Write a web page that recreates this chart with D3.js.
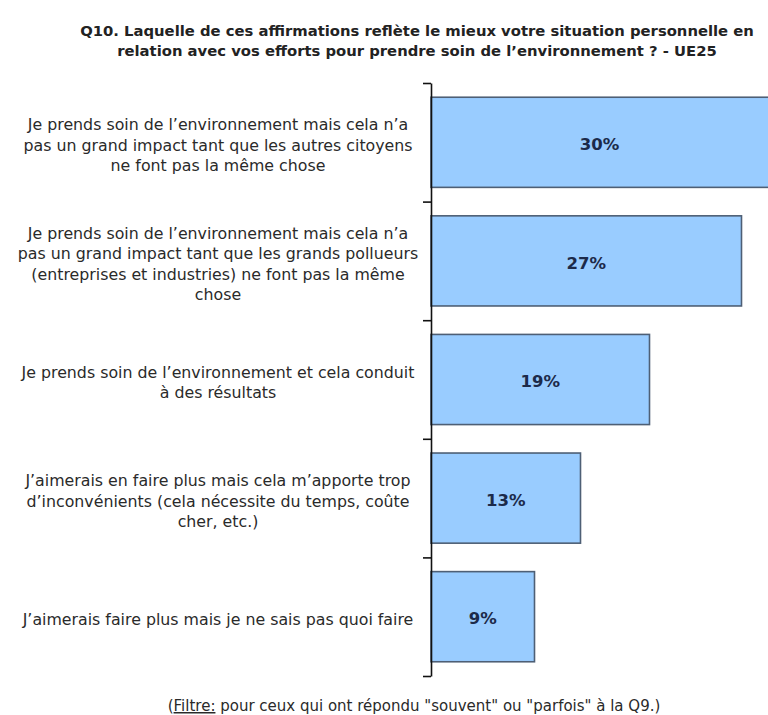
<!DOCTYPE html>
<html>
<head>
<meta charset="utf-8">
<script src="https://cdn.jsdelivr.net/npm/d3@7"></script>
<style>
  html, body { margin: 0; padding: 0; background: #ffffff; }
  svg { display: block; }
</style>
</head>
<body>
<script>
const titleLines = [
  "Q10. Laquelle de ces affirmations reflète le mieux votre situation personnelle en",
  "relation avec vos efforts pour prendre soin de l’environnement ? - UE25"
];
const categories = [
  ["Je prends soin de l’environnement mais cela n’a", "pas un grand impact tant que les autres citoyens", "ne font pas la même chose"],
  ["Je prends soin de l’environnement mais cela n’a", "pas un grand impact tant que les grands pollueurs", "(entreprises et industries) ne font pas la même", "chose"],
  ["Je prends soin de l’environnement et cela conduit", "à des résultats"],
  ["J’aimerais en faire plus mais cela m’apporte trop", "d’inconvénients (cela nécessite du temps, coûte", "cher, etc.)"],
  ["J’aimerais faire plus mais je ne sais pas quoi faire"]
];
const values = [30, 27, 19, 13, 9];
const valueLabels = ["30%", "27%", "19%", "13%", "9%"];
const footerPrefix = "(";
const footerUnderlined = "Filtre:";
const footerRest = " pour ceux qui ont répondu \"souvent\" ou \"parfois\" à la Q9.)";

const W = 768, H = 715;
const font = "'DejaVu Sans', Verdana, sans-serif";

const svg = d3.select("body").append("svg")
  .attr("width", W).attr("height", H)
  .style("font-family", font);

// Title
svg.append("g").selectAll("text").data(titleLines).join("text")
  .attr("x", 417)
  .attr("y", (d, i) => 36 + i * 20)
  .attr("text-anchor", "middle")
  .attr("font-size", 14.8)
  .attr("font-weight", "bold")
  .attr("fill", "#222")
  .text(d => d);

const x = d3.scaleLinear().domain([0, 30]).range([431, 776]);
const idx = d3.range(categories.length);
const y = d3.scaleBand().domain(idx).range([83, 676]).paddingInner(0.24).paddingOuter(0.12);
const yTicks = d3.scaleLinear().domain([0, categories.length]).range([83, 676]);

// Bars
svg.append("g").selectAll("rect").data(values).join("rect")
  .attr("x", x(0))
  .attr("y", (d, i) => y(i))
  .attr("width", d => x(d) - x(0))
  .attr("height", y.bandwidth())
  .attr("fill", "#99ccff")
  .attr("stroke", "#4e5f75")
  .attr("stroke-width", 1.6);

// Value labels
svg.append("g").selectAll("text").data(values).join("text")
  .attr("x", d => (x(0) + Math.min(x(d), W)) / 2)
  .attr("y", (d, i) => y(i) + y.bandwidth() / 2 + 2)
  .attr("dy", "0.35em")
  .attr("text-anchor", "middle")
  .attr("font-size", 16.5)
  .attr("font-weight", "bold")
  .attr("fill", "#1c2a4a")
  .text((d, i) => valueLabels[i]);

// Axis
const axis = d3.axisLeft(yTicks).ticks(categories.length).tickFormat("").tickSize(8).tickSizeOuter(0);
const ag = svg.append("g").attr("transform", `translate(${x(0)},0)`).call(axis);
ag.select(".domain").attr("stroke", "#111").attr("stroke-width", 1.6);
ag.selectAll(".tick line").attr("stroke", "#111").attr("stroke-width", 1.6);

// Category labels
const lh = 20.5;
const cg = svg.append("g");
categories.forEach((lines, i) => {
  const cy = y(i) + y.bandwidth() / 2 + 3;
  const t = cg.append("text")
    .attr("text-anchor", "middle")
    .attr("font-size", 15.8)
    .attr("fill", "#2a2a2a");
  lines.forEach((ln, j) => {
    t.append("tspan")
      .attr("x", 218)
      .attr("y", cy + (j - (lines.length - 1) / 2) * lh)
      .attr("dy", "0.35em")
      .text(ln);
  });
});

// Footer
const ft = svg.append("text")
  .attr("x", 414).attr("y", 711)
  .attr("text-anchor", "middle")
  .attr("font-size", 15)
  .attr("fill", "#2a2a2a");
ft.append("tspan").text(footerPrefix);
ft.append("tspan").attr("text-decoration", "underline").text(footerUnderlined);
ft.append("tspan").text(footerRest);
</script>
</body>
</html>
